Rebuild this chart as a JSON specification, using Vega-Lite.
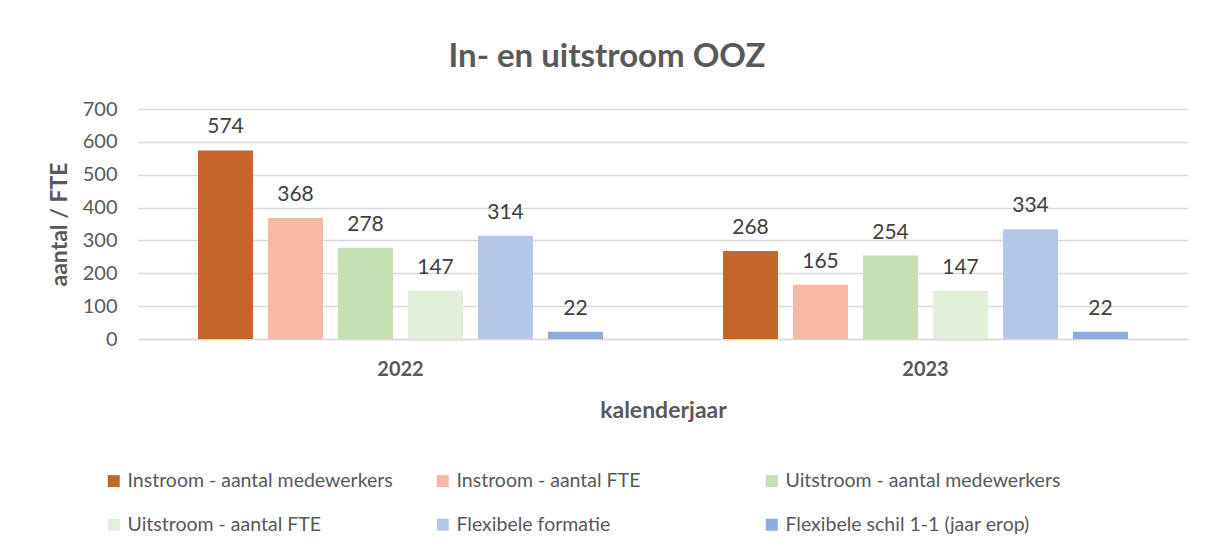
{
  "$schema": "https://vega.github.io/schema/vega-lite/v6.json",
  "width": 1050,
  "height": 230,
  "autosize": {"type": "none"},
  "padding": {"left": 138, "top": 109, "right": 24, "bottom": 212},
  "background": "white",
  "config": {
    "font": "Lato",
    "view": {"stroke": null}
  },
  "title": {
    "text": "In- en uitstroom OOZ",
    "fontSize": 33,
    "fontWeight": "bold",
    "color": "#595959",
    "font": "Lato",
    "anchor": "middle",
    "dx": -56,
    "offset": 25
  },
  "data": {
    "values": [
      {"jaar": "2022", "reeks": "Instroom - aantal medewerkers", "waarde": 574},
      {"jaar": "2022", "reeks": "Instroom - aantal FTE", "waarde": 368},
      {"jaar": "2022", "reeks": "Uitstroom - aantal medewerkers", "waarde": 278},
      {"jaar": "2022", "reeks": "Uitstroom - aantal FTE", "waarde": 147},
      {"jaar": "2022", "reeks": "Flexibele formatie", "waarde": 314},
      {"jaar": "2022", "reeks": "Flexibele schil 1-1 (jaar erop)", "waarde": 22},
      {"jaar": "2023", "reeks": "Instroom - aantal medewerkers", "waarde": 268},
      {"jaar": "2023", "reeks": "Instroom - aantal FTE", "waarde": 165},
      {"jaar": "2023", "reeks": "Uitstroom - aantal medewerkers", "waarde": 254},
      {"jaar": "2023", "reeks": "Uitstroom - aantal FTE", "waarde": 147},
      {"jaar": "2023", "reeks": "Flexibele formatie", "waarde": 334},
      {"jaar": "2023", "reeks": "Flexibele schil 1-1 (jaar erop)", "waarde": 22}
    ]
  },
  "encoding": {
    "x": {
      "field": "jaar",
      "type": "nominal",
      "scale": {"paddingInner": 0.2, "paddingOuter": 0.1},
      "title": "kalenderjaar",
      "axis": {
        "labelAngle": 0,
        "labelFontSize": 20,
        "labelFontWeight": "bold",
        "labelColor": "#595959",
        "labelPadding": 20,
        "ticks": false,
        "domainColor": "#D9D9D9",
        "domainWidth": 1.3,
        "titleFontSize": 23,
        "titleFontWeight": "bold",
        "titleColor": "#595959",
        "titlePadding": 20
      }
    },
    "xOffset": {
      "field": "reeks",
      "type": "nominal",
      "sort": ["Instroom - aantal medewerkers", "Instroom - aantal FTE", "Uitstroom - aantal medewerkers", "Uitstroom - aantal FTE", "Flexibele formatie", "Flexibele schil 1-1 (jaar erop)"],
      "scale": {"paddingInner": 0.214, "paddingOuter": 0.107}
    },
    "y": {
      "field": "waarde",
      "type": "quantitative",
      "scale": {"domain": [0, 700]},
      "title": "aantal / FTE",
      "axis": {
        "values": [0, 100, 200, 300, 400, 500, 600, 700],
        "labelFontSize": 20,
        "labelColor": "#595959",
        "labelPadding": 21,
        "ticks": false,
        "domain": false,
        "gridColor": "#D9D9D9",
        "gridWidth": 1.3,
        "titleFontSize": 23,
        "titleFontWeight": "bold",
        "titleColor": "#595959",
        "titlePadding": 11
      }
    }
  },
  "layer": [
    {
      "mark": {"type": "bar"},
      "encoding": {
        "color": {
          "field": "reeks",
          "type": "nominal",
          "sort": ["Instroom - aantal medewerkers", "Instroom - aantal FTE", "Uitstroom - aantal medewerkers", "Uitstroom - aantal FTE", "Flexibele formatie", "Flexibele schil 1-1 (jaar erop)"],
          "scale": {
            "domain": ["Instroom - aantal medewerkers", "Instroom - aantal FTE", "Uitstroom - aantal medewerkers", "Uitstroom - aantal FTE", "Flexibele formatie", "Flexibele schil 1-1 (jaar erop)"],
            "range": ["#C4652A", "#F4B8A4", "#C6E0B4", "#E2EFDA", "#B4C7E7", "#8FAADC"]
          },
          "legend": {
            "title": null,
            "orient": "none",
            "legendX": -34,
            "legendY": 362,
            "direction": "horizontal",
            "columns": 3,
            "gridAlign": "all",
            "columnPadding": 30,
            "rowPadding": 23,
            "symbolType": "square",
            "symbolSize": 144,
            "symbolStrokeWidth": 0,
            "symbolOpacity": 1,
            "labelFontSize": 19.5,
            "labelColor": "#595959",
            "labelOffset": 4,
            "labelLimit": 400
          }
        }
      }
    },
    {
      "mark": {"type": "text", "baseline": "bottom", "dy": -13, "fontSize": 21, "color": "#404040"},
      "encoding": {"text": {"field": "waarde", "type": "quantitative"}}
    }
  ]
}
